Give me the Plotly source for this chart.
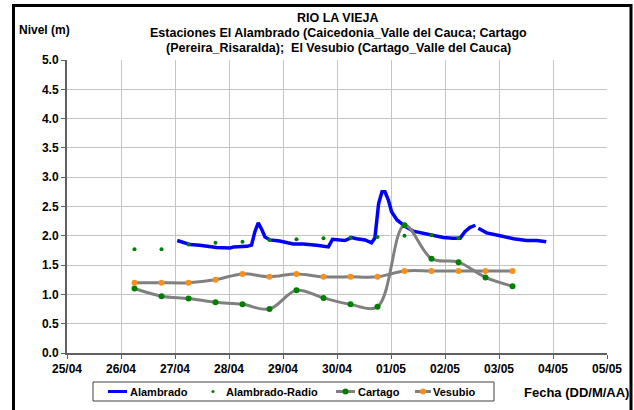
import plotly.graph_objects as go

# ---------------- data ----------------
alambrado_t = [
    "2008-04-27 01:00", "2008-04-27 03:30", "2008-04-27 06:45", "2008-04-27 11:00",
    "2008-04-27 18:30", "2008-04-28 00:30", "2008-04-28 02:00", "2008-04-28 08:00",
    "2008-04-28 10:00", "2008-04-28 11:30", "2008-04-28 13:00", "2008-04-28 14:40",
    "2008-04-28 16:00", "2008-04-28 18:15", "2008-04-28 22:30", "2008-04-29 04:30",
    "2008-04-29 09:00", "2008-04-29 15:00", "2008-04-29 20:10", "2008-04-29 22:00",
    "2008-04-30 01:30", "2008-04-30 03:30", "2008-04-30 06:30", "2008-04-30 08:40",
    "2008-04-30 12:30", "2008-04-30 15:20", "2008-04-30 16:50", "2008-04-30 18:30",
    "2008-04-30 20:00", "2008-04-30 21:20", "2008-04-30 22:50", "2008-05-01 00:15",
    "2008-05-01 02:40", "2008-05-01 06:15", "2008-05-01 09:50", "2008-05-01 14:30",
    "2008-05-01 18:45", "2008-05-01 23:15", "2008-05-02 03:30", "2008-05-02 06:45",
    "2008-05-02 08:50", "2008-05-02 11:00", "2008-05-02 13:30", "2008-05-02 14:10",
    "2008-05-02 14:50", "2008-05-02 18:30", "2008-05-03 00:30", "2008-05-03 06:30",
    "2008-05-03 12:15", "2008-05-03 16:50", "2008-05-03 21:00",
]
alambrado_v = [
    1.92, 1.89, 1.85, 1.84,
    1.80, 1.79, 1.81, 1.82,
    1.84, 2.07, 2.22, 2.10,
    1.98, 1.93, 1.91, 1.86,
    1.86, 1.84, 1.81, 1.94,
    1.93, 1.92, 1.97, 1.95,
    1.93, 1.88, 1.96, 2.55,
    2.75, 2.75, 2.61, 2.41,
    2.27, 2.16, 2.08, 2.04,
    2.00, 1.97, 1.96, 1.96,
    2.07, 2.14, 2.18, None,
    2.13, 2.05, 2.00, 1.95,
    1.92, 1.92, 1.90,
]

radio_t = [
    "2008-04-26 06:00", "2008-04-26 18:00", "2008-04-27 06:00", "2008-04-27 18:00",
    "2008-04-28 06:00", "2008-04-28 18:00", "2008-04-29 06:00", "2008-04-29 18:00",
    "2008-04-30 06:00", "2008-04-30 18:00", "2008-05-01 06:00", "2008-05-01 18:00",
    "2008-05-02 06:00",
]
radio_v = [1.77, 1.77, 1.85, 1.88, 1.90, 1.93, 1.94, 1.96, 1.97, 1.98, 2.00, 2.01, 1.96]

station_t = [
    "2008-04-26 06:00", "2008-04-26 18:00", "2008-04-27 06:00", "2008-04-27 18:00",
    "2008-04-28 06:00", "2008-04-28 18:00", "2008-04-29 06:00", "2008-04-29 18:00",
    "2008-04-30 06:00", "2008-04-30 18:00", "2008-05-01 06:00", "2008-05-01 18:00",
    "2008-05-02 06:00", "2008-05-02 18:00", "2008-05-03 06:00",
]
cartago_v = [1.10, 0.97, 0.93, 0.865, 0.83, 0.75, 1.07, 0.94, 0.83, 0.79, 2.18, 1.61, 1.55, 1.29, 1.14]
vesubio_v = [1.20, 1.20, 1.20, 1.25, 1.35, 1.30, 1.35, 1.30, 1.30, 1.30, 1.40, 1.40, 1.40, 1.40, 1.40]

series_names = ["Alambrado", "Alambrado-Radio", "Cartago", "Vesubio"]

title_lines = [
    "RIO LA VIEJA",
    "Estaciones El Alambrado (Caicedonia_Valle del Cauca; Cartago",
    "(Pereira_Risaralda);  El Vesubio (Cartago_Valle del Cauca)",
]

# ---------------- styling ----------------
FONT = "Liberation Sans, Arial, sans-serif"
BLUE, GREEN, GRAY, ORANGE = "#0000FF", "#008000", "#808080", "#F7901E"
W, H = 634, 410
L, R, T, B = 67, 27, 60, 57
pw, ph = W - L - R, H - T - B


def px(x):
    return (x - L) / pw


def py(y):
    return (H - B - y) / ph


fig = go.Figure()
fig.add_trace(go.Scatter(
    x=alambrado_t, y=alambrado_v, name=series_names[0], mode="lines",
    line=dict(color=BLUE, width=3.5), connectgaps=False,
))
fig.add_trace(go.Scatter(
    x=radio_t, y=radio_v, name=series_names[1], mode="markers",
    marker=dict(color=GREEN, size=4),
))
fig.add_trace(go.Scatter(
    x=station_t, y=cartago_v, name=series_names[2], mode="lines+markers",
    line=dict(color=GRAY, width=3, shape="spline", smoothing=1),
    marker=dict(color=GREEN, size=6),
))
fig.add_trace(go.Scatter(
    x=station_t, y=vesubio_v, name=series_names[3], mode="lines+markers",
    line=dict(color=GRAY, width=3, shape="spline", smoothing=1),
    marker=dict(color=ORANGE, size=6),
))


def txt_font(size=12):
    return dict(family=FONT, size=size, color="black", weight="bold")


annotations = []
for txt, yy in zip(title_lines, [18, 33, 48]):
    annotations.append(dict(
        text=txt, x=px(338), y=py(yy), xref="paper", yref="paper",
        xanchor="center", yanchor="middle", showarrow=False, font=txt_font(12.5),
        borderpad=0,
    ))
annotations.append(dict(
    text="Nivel (m)", x=px(17), y=py(30), xref="paper", yref="paper",
    xanchor="left", yanchor="middle", showarrow=False, font=txt_font(12),
))
annotations.append(dict(
    text="Fecha (DD/M/AA)", x=px(631), y=py(392), xref="paper", yref="paper",
    xanchor="right", yanchor="middle", showarrow=False, font=txt_font(13),
))

# legend (drawn as a boxed key under the plot, like the original)
LEG_Y = 391.5
shapes = [
    dict(type="rect", xref="paper", yref="paper",
         x0=px(13.5), x1=px(631), y0=py(5.5), y1=py(420),
         line=dict(color="black", width=3), fillcolor="rgba(0,0,0,0)", layer="above"),
    dict(type="rect", xref="paper", yref="paper",
         x0=px(93), x1=px(494), y0=py(382), y1=py(401),
         line=dict(color="#404040", width=1), fillcolor="white", layer="above"),
]
legend_items = [
    # (line x0, line x1, line color, dot x, dot color, dot radius, text x)
    (108, 127, BLUE, None, None, 0, 128),
    (None, None, None, 213, GREEN, 1.6, 224),
    (336, 355, GRAY, 345.5, GREEN, 3, 356),
    (415, 431, GRAY, 423, ORANGE, 3, 431),
]
for name, (lx0, lx1, lc, dx, dc, dr, tx) in zip(series_names, legend_items):
    if lx0 is not None:
        shapes.append(dict(type="line", xref="paper", yref="paper",
                           x0=px(lx0), x1=px(lx1), y0=py(LEG_Y), y1=py(LEG_Y),
                           line=dict(color=lc, width=3), layer="above"))
    if dx is not None:
        shapes.append(dict(type="circle", xref="paper", yref="paper",
                           x0=px(dx - dr), x1=px(dx + dr),
                           y0=py(LEG_Y - dr), y1=py(LEG_Y + dr),
                           line=dict(color=dc, width=0), fillcolor=dc, layer="above"))
    annotations.append(dict(
        text=name, x=px(tx), y=py(LEG_Y), xref="paper", yref="paper",
        xanchor="left", yanchor="middle", showarrow=False, font=txt_font(11),
    ))

fig.update_layout(
    width=W, height=H,
    margin=dict(l=L, r=R, t=T, b=B, autoexpand=False),
    paper_bgcolor="white", plot_bgcolor="white",
    font=txt_font(12),
    showlegend=False,
    annotations=annotations,
    shapes=shapes,
)
axis_common = dict(
    showgrid=True, gridcolor="#C4C4C4", gridwidth=1,
    showline=True, linecolor="#606060", linewidth=2,
    ticks="outside", ticklen=4, tickcolor="#606060", tickwidth=1,
    tickfont=txt_font(12), zeroline=False,
)
fig.update_xaxes(
    type="date", range=["2008-04-25", "2008-05-05"],
    tick0="2008-04-25", dtick=86400000, tickformat="%d/%m", **axis_common,
)
fig.update_yaxes(range=[0, 5], dtick=0.5, tick0=0, tickformat=".1f", **axis_common)

fig.write_html(
    "out.html",
    config={"displayModeBar": False},
    post_script="document.body.style.margin='0px';",
)
